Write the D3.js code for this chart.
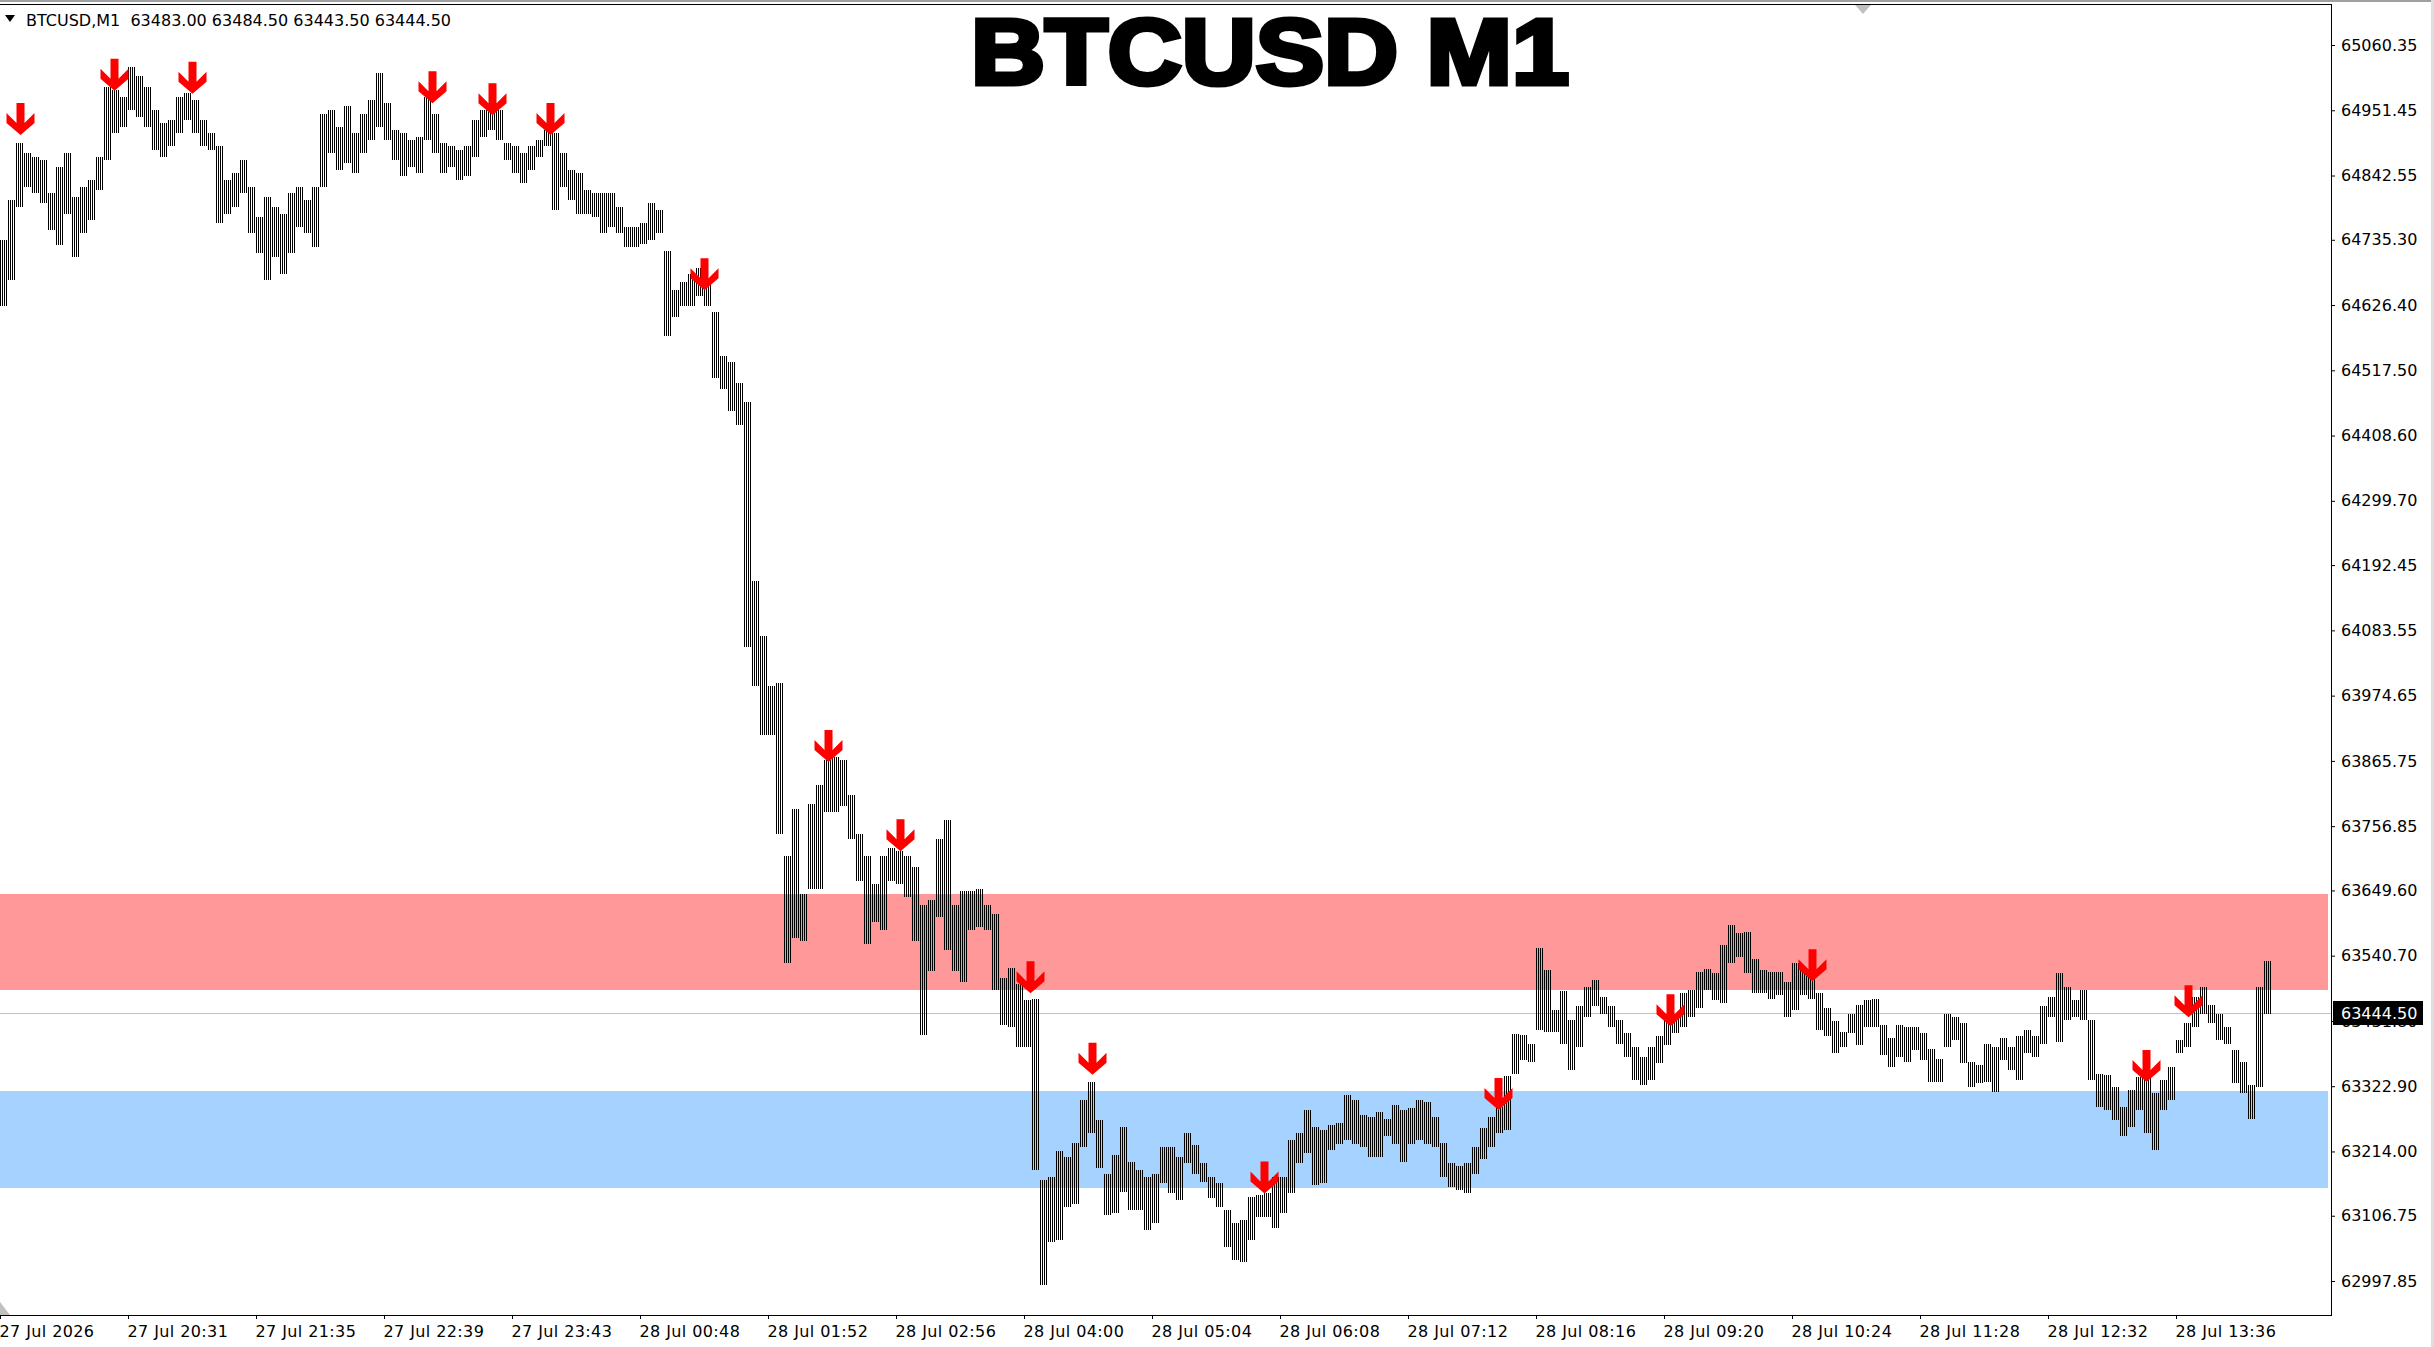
<!DOCTYPE html>
<html>
<head>
<meta charset="utf-8">
<script src="https://cdn.jsdelivr.net/npm/d3@7"></script>
<style>
    body { margin: 0; background: #fff; }
    svg { display: block; }
    .axis text { font-family: "DejaVu Sans"; font-size: 16px; fill: #000; }
    .axis line { stroke: #000; }
</style>
</head>
<body>
<div class="chart"></div>
<script>
// price axis labels (MT4 style, uneven rounding)
const priceTicks = [65060.35, 64951.45, 64842.55, 64735.30, 64626.40, 64517.50, 64408.60,
    64299.70, 64192.45, 64083.55, 63974.65, 63865.75, 63756.85, 63649.60, 63540.70,
    63431.80, 63322.90, 63214.00, 63106.75, 62997.85];

const timeLabels = ["27 Jul 2026", "27 Jul 20:31", "27 Jul 21:35", "27 Jul 22:39", "27 Jul 23:43",
    "28 Jul 00:48", "28 Jul 01:52", "28 Jul 02:56", "28 Jul 04:00", "28 Jul 05:04",
    "28 Jul 06:08", "28 Jul 07:12", "28 Jul 08:16", "28 Jul 09:20", "28 Jul 10:24",
    "28 Jul 11:28", "28 Jul 12:32", "28 Jul 13:36"];

const barsPerLabel = 64;   // one time label every 64 M1 bars
const barsPerBucket = 4;   // each high/low pair below covers 4 M1 bars

// high of every 4-bar block
const bucketHigh = [
    64735, 64802, 64896, 64880, 64874, 64868, 64813, 64857, 64880, 64807,
    64824, 64835, 64874, 64991, 64985, 64974, 65024, 65008, 64991, 64952,
    64930, 64935, 64974, 64980, 64969, 64935, 64913, 64891, 64835, 64846,
    64868, 64824, 64774, 64807, 64790, 64779, 64813, 64824, 64802, 64824,
    64946, 64952, 64924, 64958, 64913, 64946, 64969, 65013, 64963, 64919,
    64913, 64902, 64907, 64974, 64946, 64896, 64891, 64885, 64891, 64935,
    64952, 64958, 64952, 64896, 64891, 64880, 64891, 64902, 64919, 64913,
    64880, 64852, 64846, 64818, 64813, 64813, 64813, 64790, 64757, 64757,
    64763, 64796, 64785, 64716, 64652, 64665, 64679, 64688, 64661, 64615,
    64542, 64532, 64496, 64464, 64166, 64074, 63991, 63996, 63707, 63785,
    63643, 63794, 63826, 63868, 63872, 63868, 63808, 63744, 63707, 63661,
    63707, 63721, 63716, 63707, 63689, 63625, 63634, 63735, 63767, 63625,
    63648, 63648, 63652, 63625, 63611, 63503, 63520, 63494, 63467, 63469,
    63166, 63172, 63214, 63205, 63228, 63300, 63330, 63266, 63177, 63208,
    63255, 63197, 63183, 63172, 63177, 63222, 63222, 63205, 63244, 63225,
    63194, 63172, 63161, 63116, 63094, 63100, 63138, 63141, 63144, 63172,
    63172, 63233, 63244, 63283, 63255, 63250, 63258, 63261, 63308, 63300,
    63275, 63272, 63280, 63269, 63291, 63283, 63286, 63300, 63297, 63272,
    63228, 63194, 63189, 63194, 63222, 63253, 63272, 63289, 63340, 63410,
    63408, 63394, 63553, 63517, 63450, 63481, 63433, 63456, 63489, 63500,
    63472, 63456, 63433, 63411, 63389, 63372, 63389, 63406, 63433, 63444,
    63478, 63483, 63514, 63519, 63511, 63558, 63592, 63578, 63581, 63536,
    63517, 63514, 63514, 63497, 63528, 63517, 63506, 63478, 63453, 63431,
    63414, 63444, 63458, 63467, 63469, 63425, 63403, 63425, 63422, 63422,
    63411, 63385, 63369, 63444, 63439, 63428, 63364, 63358, 63394, 63389,
    63403, 63389, 63406, 63417, 63406, 63456, 63472, 63511, 63489, 63467,
    63483, 63433, 63344, 63342, 63322, 63289, 63317, 63339, 63344, 63311,
    63333, 63355, 63400, 63428, 63472, 63489, 63458, 63444, 63422, 63383,
    63364, 63325, 63489, 63531];

// low of every 4-bar block
const bucketLow = [
    64624, 64668, 64790, 64824, 64813, 64796, 64752, 64727, 64779, 64707,
    64746, 64768, 64818, 64868, 64913, 64924, 64952, 64941, 64924, 64885,
    64874, 64891, 64913, 64935, 64913, 64891, 64885, 64763, 64779, 64790,
    64813, 64746, 64713, 64668, 64707, 64679, 64713, 64757, 64746, 64724,
    64824, 64880, 64852, 64863, 64846, 64880, 64902, 64924, 64902, 64868,
    64841, 64857, 64846, 64902, 64880, 64846, 64857, 64835, 64841, 64874,
    64907, 64919, 64902, 64868, 64846, 64830, 64852, 64874, 64891, 64785,
    64824, 64802, 64779, 64779, 64774, 64746, 64757, 64746, 64724, 64724,
    64729, 64735, 64746, 64574, 64606, 64624, 64624, 64642, 64624, 64505,
    64487, 64450, 64427, 64056, 63991, 63909, 63909, 63744, 63528, 63570,
    63565, 63652, 63652, 63781, 63781, 63790, 63735, 63666, 63560, 63597,
    63583, 63666, 63661, 63638, 63565, 63409, 63515, 63606, 63551, 63515,
    63496, 63583, 63588, 63583, 63483, 63425, 63422, 63389, 63389, 63183,
    62992, 63063, 63066, 63122, 63127, 63222, 63244, 63186, 63108, 63111,
    63147, 63116, 63116, 63083, 63094, 63161, 63144, 63133, 63194, 63177,
    63163, 63136, 63122, 63055, 63033, 63030, 63066, 63105, 63105, 63086,
    63111, 63144, 63194, 63211, 63158, 63161, 63216, 63227, 63233, 63227,
    63222, 63205, 63205, 63239, 63227, 63197, 63227, 63233, 63227, 63222,
    63172, 63155, 63150, 63144, 63177, 63202, 63222, 63244, 63250, 63344,
    63367, 63364, 63417, 63414, 63414, 63394, 63350, 63389, 63439, 63456,
    63444, 63422, 63394, 63372, 63333, 63325, 63333, 63361, 63392, 63411,
    63422, 63439, 63453, 63483, 63467, 63461, 63528, 63539, 63511, 63478,
    63478, 63469, 63475, 63439, 63450, 63475, 63469, 63417, 63406, 63378,
    63389, 63411, 63392, 63422, 63422, 63375, 63355, 63372, 63364, 63383,
    63367, 63330, 63330, 63389, 63400, 63361, 63322, 63328, 63330, 63314,
    63367, 63350, 63333, 63378, 63372, 63394, 63439, 63397, 63433, 63439,
    63433, 63333, 63289, 63283, 63266, 63239, 63255, 63283, 63244, 63216,
    63283, 63300, 63378, 63389, 63422, 63444, 63428, 63400, 63394, 63328,
    63311, 63269, 63322, 63444];

// down-arrow signals: bar index and price at the arrow tip
const signalBar = [10, 57, 96, 216, 246, 275, 352, 414, 450, 515, 546, 632, 749, 835, 906, 1073, 1094];
const signalPrice = [64910, 64984, 64979, 64963, 64943, 64910, 64651, 63864, 63715, 63478,
    63342, 63144, 63283, 63423, 63498, 63330, 63438];

const resistanceZone = [63483, 63644];
const supportZone = [63153, 63315];

const lastOHLC = [63483.00, 63484.50, 63443.50, 63444.50];
const symbolName = "BTCUSD,M1";
const titleText = "BTCUSD M1";

const width = 2434;
const height = 1347;
const plotRight = 2331;
const plotTop = 4;
const plotBottom = 1315;

const svg = d3.select(".chart").append("svg")
    .attr("width", width)
    .attr("height", height);

const nBars = bucketHigh.length * barsPerBucket;
const x = d3.scaleLinear().domain([0, nBars]).range([0, nBars * 2]);
const y = d3.scaleLinear().domain([62997.85, 65060.35]).range([1281, 45]);

// 1px black bar every 2px, like the M1 bars at this zoom
svg.append("defs").append("pattern")
    .attr("id", "barPattern")
    .attr("patternUnits", "userSpaceOnUse")
    .attr("width", 2)
    .attr("height", 4)
    .append("rect")
    .attr("width", 1)
    .attr("height", 4)
    .attr("fill", "#000");

// window edges
svg.append("rect").attr("x", 0).attr("y", 0).attr("width", width).attr("height", 2).attr("fill", "#a0a0a0");
svg.append("rect").attr("x", width - 3).attr("y", 0).attr("width", 3).attr("height", height).attr("fill", "#dedede");

// zones
const zoneGroup = svg.append("g").attr("shape-rendering", "crispEdges");
[[resistanceZone, "#ff9999"], [supportZone, "#a6d2ff"]].forEach(([z, c]) => {
    zoneGroup.append("rect")
        .attr("x", 0)
        .attr("y", y(z[1]))
        .attr("width", plotRight - 3)
        .attr("height", y(z[0]) - y(z[1]))
        .attr("fill", c);
});

// bid line
const lastY = Math.round(y(lastOHLC[3])) + 0.5;
svg.append("line")
    .attr("x1", 0).attr("x2", plotRight)
    .attr("y1", lastY).attr("y2", lastY)
    .attr("stroke", "#c0c0c0");

// price bars: one textured block per 4 bars, high to low
svg.append("g")
    .attr("shape-rendering", "crispEdges")
    .selectAll("rect")
    .data(bucketHigh)
    .join("rect")
    .attr("x", (d, k) => x(k * barsPerBucket))
    .attr("width", x(barsPerBucket) - x(0))
    .attr("y", d => y(d))
    .attr("height", (d, k) => Math.max(1, y(bucketLow[k]) - y(d)))
    .attr("fill", "url(#barPattern)");

// arrows, tip at (0,0)
const arrowShape = [[0, 0], [-14, -12], [-14, -22], [-4, -12], [-4, -32], [4, -32], [4, -12], [14, -22], [14, -12]];
svg.append("g")
    .selectAll("polygon")
    .data(signalBar)
    .join("polygon")
    .attr("points", arrowShape.map(p => p.join(",")).join(" "))
    .attr("transform", (d, i) => `translate(${x(d) + 0.5},${y(signalPrice[i])})`)
    .attr("fill", "#ff0000");

// frame
const frame = svg.append("g").attr("stroke", "#000").attr("shape-rendering", "crispEdges");
frame.append("line").attr("x1", 0).attr("x2", plotRight + 0.5).attr("y1", plotTop + 0.5).attr("y2", plotTop + 0.5);
frame.append("line").attr("x1", plotRight + 0.5).attr("x2", plotRight + 0.5).attr("y1", plotTop).attr("y2", plotBottom + 1);
frame.append("line").attr("x1", 0).attr("x2", plotRight + 0.5).attr("y1", plotBottom + 0.5).attr("y2", plotBottom + 0.5);

// price axis
const yAxis = svg.append("g")
    .classed("axis", true)
    .attr("transform", `translate(${plotRight},0)`)
    .call(d3.axisRight(y).tickValues(priceTicks).tickSize(4).tickPadding(6).tickFormat(d3.format(".2f")));
yAxis.select(".domain").remove();

// time axis
const xAxis = svg.append("g")
    .classed("axis", true)
    .attr("transform", `translate(0,${plotBottom})`)
    .call(d3.axisBottom(x)
        .tickValues(timeLabels.map((_, i) => i * barsPerLabel))
        .tickSize(4)
        .tickPadding(7)
        .tickFormat((d, i) => timeLabels[i]));
xAxis.select(".domain").remove();
xAxis.selectAll("text")
    .attr("text-anchor", "start")
    .attr("x", -1)
    .style("letter-spacing", "0.4px");

// current price box (covers the tick label beneath, as in the terminal)
svg.append("rect")
    .attr("x", plotRight + 2)
    .attr("y", lastY - 12.5)
    .attr("width", 90)
    .attr("height", 24)
    .attr("fill", "#000");
svg.append("text")
    .attr("x", plotRight + 10)
    .attr("y", lastY)
    .attr("dy", "0.36em")
    .style("font-family", "DejaVu Sans")
    .style("font-size", "16px")
    .attr("fill", "#fff")
    .text(d3.format(".2f")(lastOHLC[3]));

// info line, top left
svg.append("polygon")
    .attr("points", "5,15 15,15 10,22")
    .attr("fill", "#000");
svg.append("text")
    .attr("x", 26)
    .attr("y", 26)
    .style("font-family", "DejaVu Sans")
    .style("font-size", "16px")
    .style("white-space", "pre")
    .text(symbolName + "  " + lastOHLC.map(v => v.toFixed(2)).join(" "));

// small grey markers
svg.append("polygon").attr("points", "1855,5 1871,5 1863,14").attr("fill", "#c0c0c0");
svg.append("polygon").attr("points", "0,1302 0,1315 10,1315").attr("fill", "#c0c0c0");

// big title
svg.append("text")
    .attr("x", 971)
    .attr("y", 84)
    .attr("textLength", 598)
    .attr("lengthAdjust", "spacingAndGlyphs")
    .style("font-family", "Liberation Sans")
    .style("font-weight", "bold")
    .style("font-size", "93px")
    .attr("fill", "#000")
    .attr("stroke", "#000")
    .attr("stroke-width", 5)
    .attr("stroke-linejoin", "miter")
    .text(titleText);
</script>
</body>
</html>
